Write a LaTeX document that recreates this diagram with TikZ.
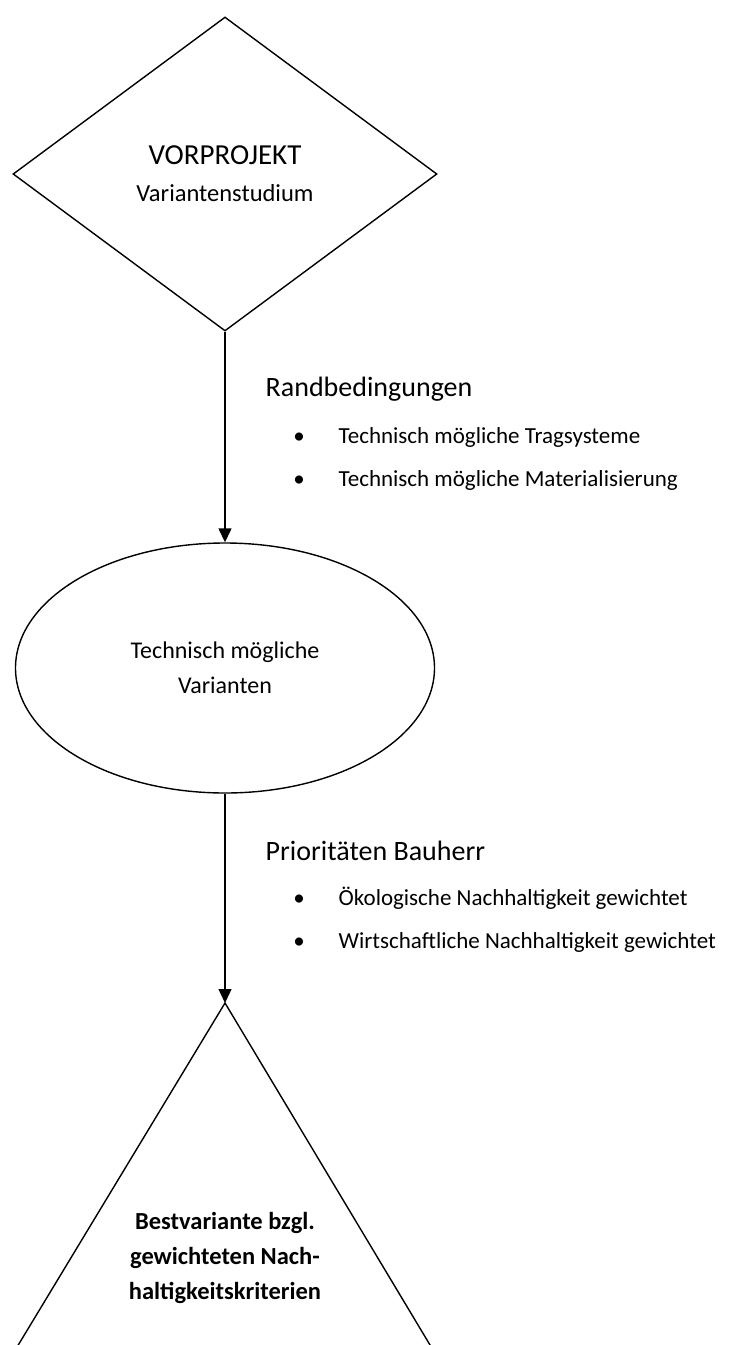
\documentclass[tikz,border=0pt]{standalone}
\usepackage{fontspec}
\setmainfont{Carlito}
\usetikzlibrary{arrows.meta, positioning, shapes.geometric}

\begin{document}
\begin{tikzpicture}[x=1pt, y=-1pt, line width=1.4pt, every node/.style={align=center, font=\fontsize{24}{35}\selectfont},
    heading/.style={anchor=base west, inner sep=0pt, font=\fontsize{28}{33}\selectfont},
    bulletdot/.style={anchor=base, inner sep=0pt, font=\fontsize{23}{33}\selectfont},
    itemtext/.style={anchor=base west, inner sep=0pt, font=\fontsize{23}{33}\selectfont}]
    \clip (0,0) rectangle (744,1345);

    \node[diamond, draw, minimum width=424pt, minimum height=314pt, inner sep=0pt, font=\fontsize{24.5}{37}\selectfont] (vorprojekt) at (225,174) {{\fontsize{29}{37}\selectfont VORPROJEKT}\\Variantenstudium};
    \node[ellipse, draw, minimum width=419pt, minimum height=250pt, inner sep=0pt] (varianten) at (225,668) {Technisch mögliche\\Varianten};

    % Dreieck unten
    \coordinate (apex) at (225,1003);
    \draw (apex) -- ++(-240,397) -- ++(478,0) -- cycle;
    \node[font=\bfseries\fontsize{24.5}{35}\selectfont] (best) at (225,1258) {Bestvariante bzgl.\\gewichteten Nach-\\haltigkeitskriterien};

    % Randbedingungen
    \node[heading] (rand) at (265,396) {Randbedingungen};
    \node[itemtext] (rand1) at (338,443) {Technisch mögliche Tragsysteme};
    \node[itemtext, below=43pt of rand1.base west, anchor=base west] (rand2) {Technisch mögliche Materialisierung};
    \node[bulletdot] (dot1) at (299,443) {•};
    \node[bulletdot] (dot2) at (299,486) {•};

    % Prioritaeten
    \node[heading] (prio) at (265,860) {Prioritäten Bauherr};
    \node[itemtext] (prio1) at (338,905) {Ökologische Nachhaltigkeit gewichtet};
    \node[itemtext, below=43pt of prio1.base west, anchor=base west] (prio2) {Wirtschaftliche Nachhaltigkeit gewichtet};
    \node[bulletdot] (dot3) at (299,905) {•};
    \node[bulletdot] (dot4) at (299,948) {•};

    % Pfeile
    \draw[-{Triangle[length=14pt, width=13pt]}] (vorprojekt.south) -- (varianten.north);
    \draw[-{Triangle[length=14pt, width=13pt]}] (varianten.south) -- (apex);
\end{tikzpicture}
\end{document}
